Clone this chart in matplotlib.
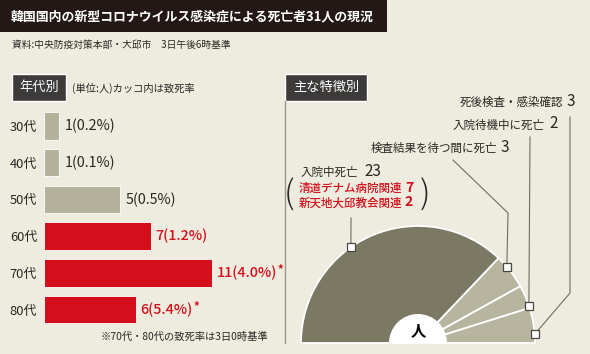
import matplotlib
matplotlib.use('Agg')
import matplotlib.pyplot as plt
import numpy as np
from matplotlib.patches import Rectangle, Wedge

plt.rcParams['font.family'] = ['Noto Sans CJK JP', 'DejaVu Sans']

# ---------------- data ----------------
title = '韓国国内の新型コロナウイルス感染症による死亡者31人の現況'
source = '資料:中央防疫対策本部・大邱市　3日午後6時基準'
left_head = '年代別'
left_unit = '(単位:人)カッコ内は致死率'
footnote = '※70代・80代の致死率は3日0時基準'
right_head = '主な特徴別'

ages = ['30代', '40代', '50代', '60代', '70代', '80代']
deaths = [1, 1, 5, 7, 11, 6]
rates = ['0.2', '0.1', '0.5', '1.2', '4.0', '5.4']
rate_note = ['', '', '', '', '*', '*']
highlight = [False, False, False, True, True, True]

feature_labels = ['入院中死亡', '検査結果を待つ間に死亡', '入院待機中に死亡', '死後検査・感染確認']
feature_counts = [23, 3, 2, 3]
sub_labels = ['清道デナム病院関連', '新天地大邱教会関連']
sub_counts = [7, 2]
center_label = '人'

# ---------------- style ----------------
W, H = 590, 354
BG = '#eeebdf'
DARK = '#231815'
BOXC = '#3d3b39'
GRAY_BAR = '#b5b29c'
RED = '#d40f1c'
PIE_DARK = '#7b7864'
PIE_LIGHT = '#b7b59f'
LINEC = '#6f6c62'
TXT = '#2a2624'

fig = plt.figure(figsize=(W / 100, H / 100), dpi=100)
fig.patch.set_facecolor(BG)


def px_axes(x0, y0, x1, y1, **kw):
    return fig.add_axes([x0 / W, 1 - y1 / H, (x1 - x0) / W, (y1 - y0) / H], **kw)


# ---------------- bar chart ----------------
PX_PER_UNIT = 15.25
bx0, bx1 = 44, 284
by0, by1 = 107.6, 328
axb = px_axes(bx0, by0, bx1, by1)
axb.set_facecolor('none')
ypos = np.arange(len(ages))
bar_colors = [RED if h else GRAY_BAR for h in highlight]
axb.barh(ypos, deaths, height=0.75, color=bar_colors, edgecolor='white', linewidth=0.6)
axb.set_xlim(0, (bx1 - bx0) / PX_PER_UNIT)
axb.set_ylim(len(ages) - 0.5, -0.5)
for s in axb.spines.values():
    s.set_visible(False)
axb.set_xticks([])
axb.set_yticks(ypos, ages)
axb.tick_params(axis='y', length=0, pad=5, labelsize=9.3, labelcolor=TXT)

val_texts = []
for i, (d, r, h) in enumerate(zip(deaths, rates, highlight)):
    t = axb.annotate(f'{d}({r}%)', xy=(d, i), xytext=(5, 0), textcoords='offset pixels',
                     va='center', ha='left', fontsize=10.3,
                     color=RED if h else TXT, fontweight='medium' if h else 'normal')
    val_texts.append(t)

# ---------------- pie (semicircle) ----------------
cx, cy, R = 418, 343, 117
S = 125
axp = px_axes(cx - S, cy - S, cx + S, cy + S)
axp.set_facecolor('none')
pie_colors = [PIE_DARK] + [PIE_LIGHT] * (len(feature_counts) - 1) + ['none']
wedges, _ = axp.pie(feature_counts + [sum(feature_counts)], startangle=180, counterclock=False,
                    colors=pie_colors, radius=1.0,
                    wedgeprops=dict(edgecolor='white', linewidth=1.3))
wedges[-1].set_visible(False)
axp.add_patch(Wedge((0, 0), 29 / R, 0, 180, facecolor='white', edgecolor='none', zorder=5))
axp.text(0, 0.11, center_label, ha='center', va='center', fontsize=11, fontweight='bold',
         color='black', zorder=6)
axp.set_xlim(-S / R, S / R)
axp.set_ylim(-S / R, S / R)
axp.set_aspect('equal', adjustable='box')
axp.axis('off')

# ---------------- overlay (pixel coords) ----------------
ax = fig.add_axes([0, 0, 1, 1], zorder=10)
ax.set_xlim(0, W)
ax.set_ylim(H, 0)
ax.axis('off')
ax.set_facecolor('none')

# title bar
ax.add_patch(Rectangle((0, 0), 387, 32, facecolor=DARK, edgecolor='none'))
ax.text(11, 16.5, title, color='white', fontsize=9.3, fontweight='bold', va='center', ha='left')
ax.text(12, 45, source, color=TXT, fontsize=7, va='center', ha='left')

# section headers
ax.add_patch(Rectangle((12, 74), 54, 27, facecolor=BOXC, edgecolor='white', linewidth=1))
ax.text(39, 87.5, left_head, color='white', fontsize=9.5, va='center', ha='center')
ax.text(72, 88, left_unit, color=TXT, fontsize=7.4, va='center', ha='left')
ax.text(268, 337, footnote, color=TXT, fontsize=7.4, va='center', ha='right')

ax.add_patch(Rectangle((285, 74), 82, 27, facecolor=BOXC, edgecolor='white', linewidth=1))
ax.text(326, 87.5, right_head, color='white', fontsize=9.5, va='center', ha='center')
ax.plot([285, 285], [101, 343], color='#9a978c', lw=1)

# leader lines and markers
marker_angles = [125, 40.6, 18.6, 4.3]
leader_paths = [
    [(351, 218)],
    [(508, 213), (453, 160)],
    [(530, 137)],
    [(570, 293), (570, 117)],
]
for ang, path in zip(marker_angles, leader_paths):
    mx = cx + R * np.cos(np.radians(ang))
    my = cy - R * np.sin(np.radians(ang))
    xs = [mx] + [p[0] for p in path]
    ys = [my] + [p[1] for p in path]
    ax.plot(xs, ys, color=LINEC, lw=0.8, zorder=1)
    ax.plot([mx], [my], marker='s', ms=5.5, mfc='white', mec='#4a4740', mew=0.9, zorder=2)

# feature labels
LFS, NFS = 8.3, 11
ax.text(301, 172, feature_labels[0], fontsize=LFS, color=TXT, va='center', ha='left')
ax.text(364, 171, str(feature_counts[0]), fontsize=NFS, color=TXT, va='center', ha='left')
right_pos = [(None, None), (497, 148), (545, 125), (563, 102)]
for k in range(1, 4):
    xe, yy = right_pos[k]
    ax.text(xe, yy, feature_labels[k], fontsize=LFS, color=TXT, va='center', ha='right')
    ax.text(xe + 4, yy - 1, str(feature_counts[k]), fontsize=NFS, color=TXT, va='center', ha='left')

# sub-details in red with parentheses
sub_y = [188, 203]
for lab, cnt, yy in zip(sub_labels, sub_counts, sub_y):
    ax.text(299, yy, lab, fontsize=LFS, color=RED, va='center', ha='left', fontweight='medium')
    ax.text(413, yy - 0.5, str(cnt), fontsize=10, color=RED, va='center', ha='right', fontweight='bold')
ax.text(289, 195, '(', fontsize=24, color=TXT, va='center', ha='center', fontweight='light')
ax.text(425, 195, ')', fontsize=24, color=TXT, va='center', ha='center', fontweight='light')

# asterisks after the values
fig.canvas.draw()
renderer = fig.canvas.get_renderer()
for t, note, h in zip(val_texts, rate_note, highlight):
    if note:
        bb = t.get_window_extent(renderer)
        ax.text(bb.x1 + 0.5, H - bb.y1 + 4, note, fontsize=8, color=RED if h else TXT,
                va='center', ha='left', fontweight='bold')

fig.savefig('out.png', dpi=100, facecolor=BG)
